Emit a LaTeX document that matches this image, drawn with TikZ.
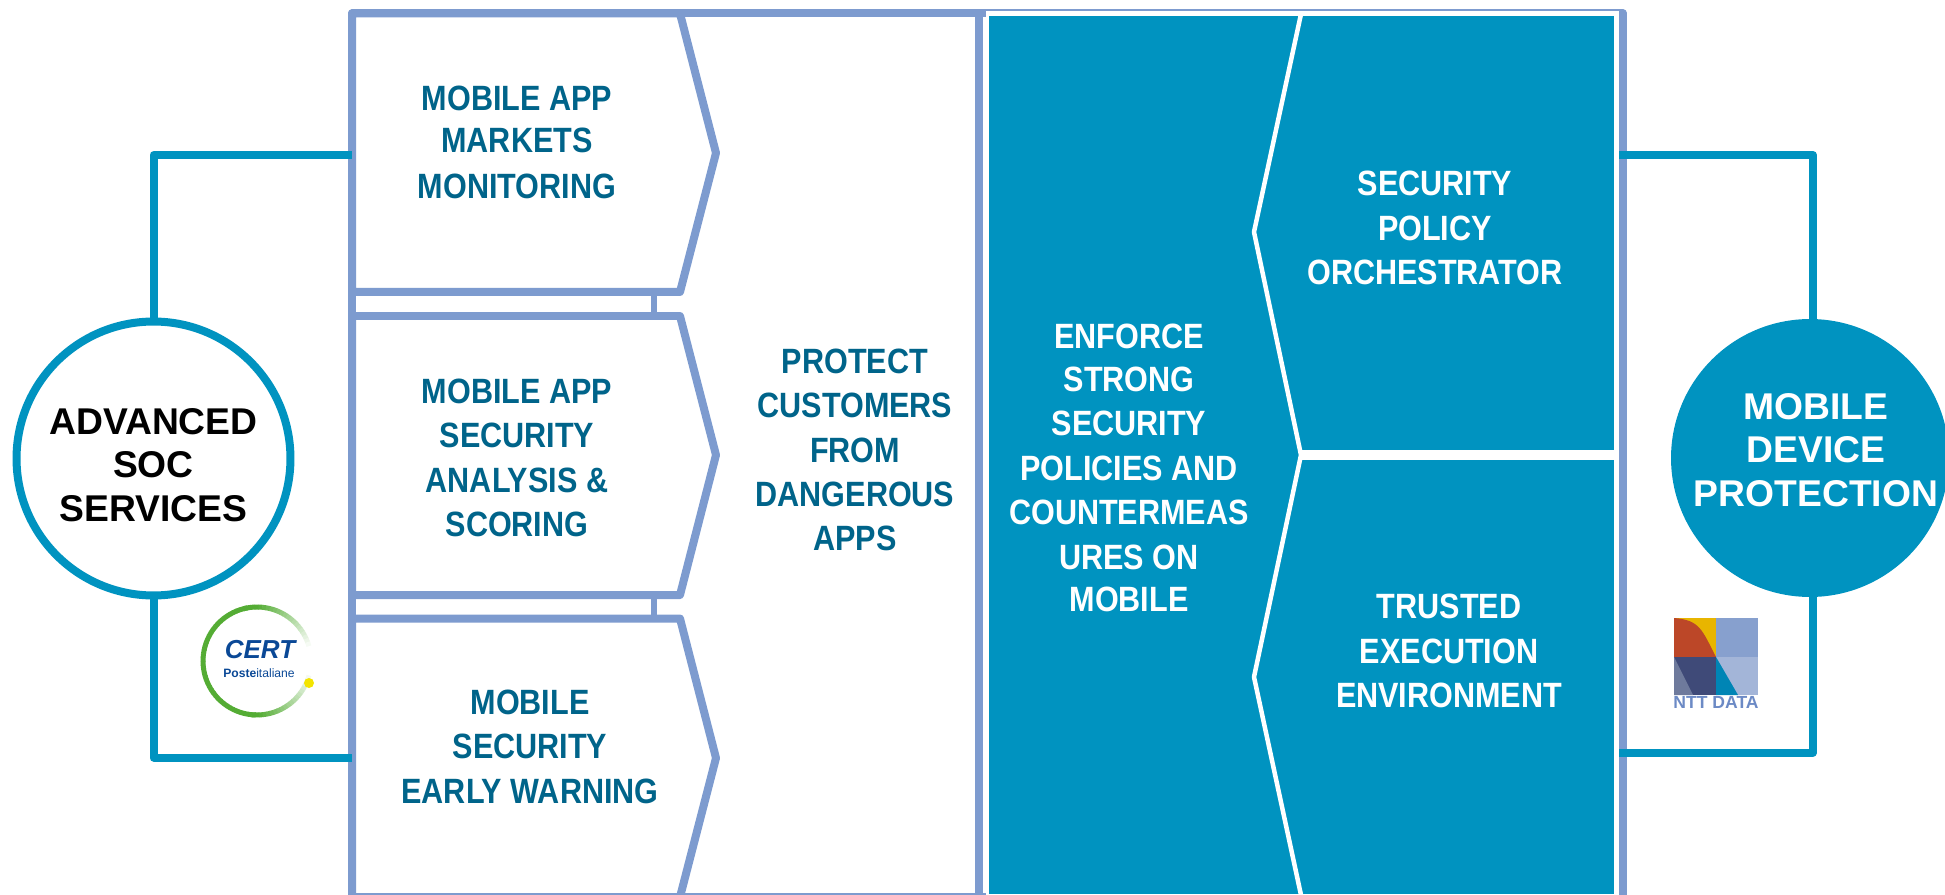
\documentclass[tikz,border=0pt]{standalone}
\usepackage{fontspec}
\setmainfont{Liberation Sans}
\newfontfamily\nrw[FakeStretch=0.87]{Liberation Sans}
\newdimen\px \px=0.56906pt
\definecolor{bluel}{RGB}{125,155,207}
\definecolor{teal1}{RGB}{0,147,192}
\definecolor{txtd}{RGB}{0,100,138}
\definecolor{certb}{RGB}{10,72,150}
\definecolor{certg}{RGB}{84,172,52}
\tikzset{
  conn/.style={draw=teal1,line width=8\px,line join=round},
  frameb/.style={draw=bluel,line width=8\px,line join=round},
  chev/.style={draw=bluel,fill=white,line width=8\px,line join=round},
  link/.style={draw=bluel,line width=6\px},
  wline/.style={draw=white,line width=4.5\px,line join=round},
  lab/.style={align=center,inner sep=0pt,font=\nrw\bfseries\fontsize{20}{25.3}\selectfont},
  dark/.style={lab,text=txtd},
  light/.style={lab,text=white},
  circ/.style={circle,inner sep=0pt},
  circt/.style={inner sep=0pt,align=center,font=\bfseries\fontsize{21.2}{24.7}\selectfont},
}
\begin{document}
\begin{tikzpicture}[x=0.02cm,y=-0.02cm]
\useasboundingbox (0,0) rectangle (1945,895);
\clip (0,0) rectangle (1945,895);
% anchors
\coordinate (lt) at (352,155);
\coordinate (lb) at (352,757.5);
\coordinate (rt) at (1619,155);
\coordinate (rb) at (1619,752.5);
\coordinate (b1s) at (654,292);
\coordinate (b2n) at (654,316);
\coordinate (b2s) at (654,595);
\coordinate (b3n) at (654,618);
% outer frames
\draw[frameb] (352,13.5) rectangle (979,897);
\draw[frameb] (979,13.5) rectangle (1623,897);
% chevrons
\draw[link] (b1s) -- (b2n);
\draw[link] (b2s) -- (b3n);
\draw[chev] (352,13.5) -- (680,13.5) -- (716,153) -- (680,292) -- (352,292) -- cycle;
\draw[chev] (352,316) -- (680,316) -- (716,455) -- (680,595) -- (352,595) -- cycle;
\draw[chev] (352,618.5) -- (680,618.5) -- (716,758) -- (680,897) -- (352,897) -- cycle;
% teal panel
\fill[white] (986,11) rectangle (1619,895);
\fill[teal1] (989,16) rectangle (1614,894);
\draw[wline] (1301,14) -- (1254,232) -- (1301,455);
\draw[wline] (1301,455) -- (1254,677) -- (1301,895);
\draw[draw=white,line width=10\px] (1301,455) -- (1616,455);
% circles
\node[circ,draw=teal1,fill=white,line width=8\px,minimum size=274\px] (soc) at (153.5,458.5) {};
\node[circt] (soct) at (153.5,465) {ADVANCED\\SOC\\SERVICES};
\node[circ,fill=teal1,minimum size=278\px] (mdp) at (1810,458) {};
\node[circt,text=white] (mdpt) at (1816,450) {MOBILE\\DEVICE\\PROTECTION};
% connectors
\draw[conn] (soc.north) -- (lt -| soc.north) -- (lt);
\draw[conn] (soc.south) -- (lb -| soc.south) -- (lb);
\coordinate (rx) at (1813,458);
\draw[conn] (rx |- mdp.north) -- (rx |- rt) -- (rt);
\draw[conn] (rx |- mdp.south) -- (rx |- rb) -- (rb);
% labels
\node[dark] (t1) at (517,142) {MOBILE APP\\[-2\px]MARKETS\\[1\px]MONITORING};
\node[dark] (t2) at (517,458) {MOBILE APP\\SECURITY\\ANALYSIS \&\\SCORING};
\node[dark] (t3) at (530,747) {MOBILE\\[-1\px]SECURITY\\[1\px]EARLY WARNING};
\node[dark] (t4) at (855,450) {PROTECT\\CUSTOMERS\\FROM\\DANGEROUS\\APPS};
\node[light] (t5) at (1129,468) {ENFORCE\\[-2\px]STRONG\\SECURITY\\POLICIES AND\\COUNTERMEAS\\URES ON\\[-2\px]MOBILE};
\node[light] (t6) at (1435,228) {SECURITY\\POLICY\\ORCHESTRATOR};
\node[light] (t7) at (1449,651) {TRUSTED\\EXECUTION\\ENVIRONMENT};
% CERT logo
\foreach \a in {100,96,...,16} {
  \pgfmathsetmacro\p{max(0,min(100,100*(\a-12)/75))}
  \draw[draw=certg!\p!white,line width=5\px,line cap=butt] ({257+54*cos(\a)},{661-54*sin(\a)}) -- ({257+54*cos(\a+4.5)},{661-54*sin(\a+4.5)});
}
\foreach \a in {100,104,...,264} {
  \draw[draw=certg,line width=5\px] ({257+54*cos(\a)},{661-54*sin(\a)}) -- ({257+54*cos(\a+4.5)},{661-54*sin(\a+4.5)});
}
\foreach \a in {264,268,...,340} {
  \pgfmathsetmacro\p{max(0,min(100,100*(345-\a)/75))}
  \draw[draw=certg!\p!white,line width=5\px] ({257+54*cos(\a)},{661-54*sin(\a)}) -- ({257+54*cos(\a+4.5)},{661-54*sin(\a+4.5)});
}
\fill[fill={rgb,255:red,243;green,228;blue,0}] (309,683) circle[radius=5];
\node[inner sep=0pt,text=certb,font=\bfseries\itshape\fontsize{14.8}{16}\selectfont] (cert) at (260,650) {CERT};
\node[inner sep=0pt,text=certb,font=\fontsize{6.9}{8}\selectfont] (poste) at (259,673) {\textbf{Poste}italiane};
% NTT logo
\fill[fill={rgb,255:red,232;green,181;blue,0}] (1674,618) rectangle (1716,657);
\fill[fill={rgb,255:red,188;green,71;blue,40}] (1674,618) .. controls (1700,620) and (1702,630) .. (1716,657) -- (1674,657) -- cycle;
\fill[fill={rgb,255:red,135;green,160;blue,206}] (1716,618) rectangle (1758,657);
\fill[fill={rgb,255:red,163;green,181;blue,216}] (1716,657) rectangle (1758,695);
\fill[fill={rgb,255:red,0;green,133;blue,181}] (1716,657) -- (1716,695) -- (1738,695) -- cycle;
\fill[fill={rgb,255:red,63;green,74;blue,120}] (1674,657) rectangle (1716,695);
\fill[fill={rgb,255:red,110;green,122;blue,156}] (1674,657) -- (1674,695) -- (1693,695) -- cycle;
\node[inner sep=0pt,text={rgb,255:red,108;green,138;blue,197},font=\bfseries\fontsize{10}{11}\selectfont] (ntt) at (1716,702) {NTT DATA};
\end{tikzpicture}
\end{document}
